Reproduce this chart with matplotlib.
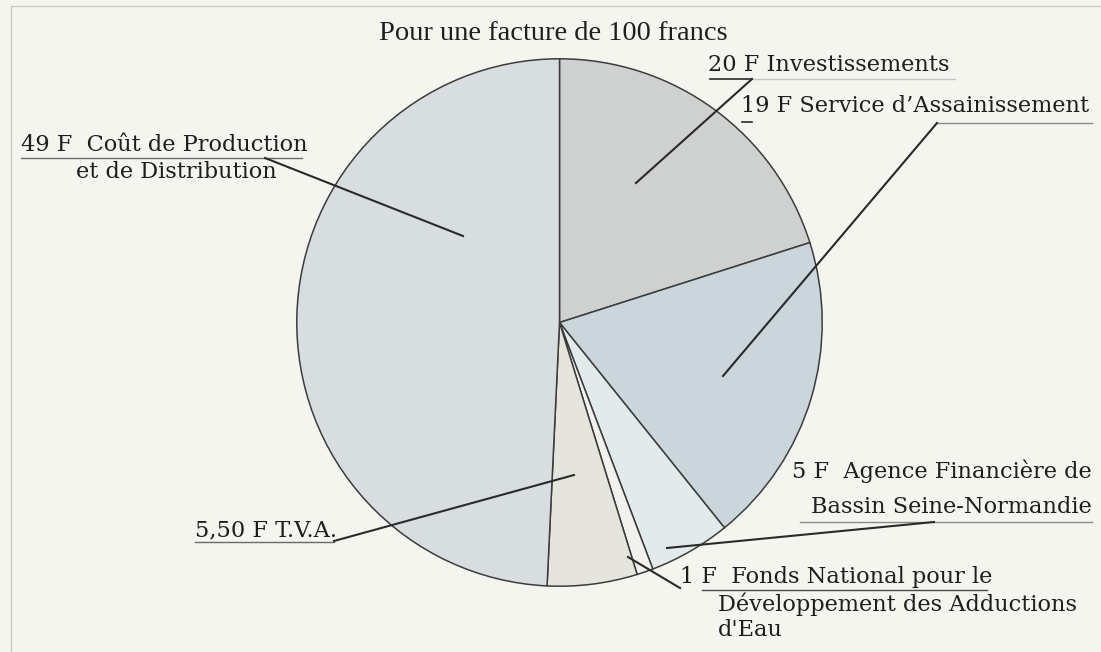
import matplotlib
matplotlib.use("Agg")
import matplotlib.pyplot as plt

# Répartition d'une facture d'eau de 100 francs (sens horaire depuis le haut)
parts = ["Investissements", "Service d'Assainissement", "Agence Financière",
         "Fonds National", "T.V.A.", "Coût de Production"]
montants = [20, 19, 5, 1, 5.5, 49]
couleurs = ["#cfd1d1", "#cbd6dc", "#e3eaec", "#f1f2ee", "#e5e5dd", "#d8dedf"]

titre = "Pour une facture de 100 francs"

W, H = 1101, 652
BG = "#f5f5ef"

fig = plt.figure(figsize=(W / 100, H / 100), dpi=100, facecolor=BG)

# camembert
ax = fig.add_axes([296 / W, 65 / H, 527 / W, 529 / H])
ax.pie(montants, colors=couleurs, startangle=90, counterclock=False, radius=1,
       wedgeprops=dict(edgecolor="#3c3c3c", linewidth=1.1))
ax.set_xlim(-1.003, 1.003)
ax.set_ylim(-1.003, 1.003)
ax.set_aspect("auto")
ax.axis("off")

# calque en pixels pour les textes et les traits de rappel
ov = fig.add_axes([0, 0, 1, 1])
ov.set_xlim(0, W)
ov.set_ylim(H, 0)
ov.axis("off")
ov.patch.set_alpha(0)

# cadre léger de la page scannée
ov.plot([11, 11], [7, H], color="#c9c9c4", lw=1)
ov.plot([11, W], [6, 6], color="#c9c9c4", lw=1)

lab = dict(family="DejaVu Serif", fontsize=16.2, color="#1e1e1e", va="center")

ov.text(379, 33, titre, family="Liberation Serif", fontsize=20.5,
        color="#1e1e1e", va="center")

# 20 F Investissements
ov.text(708, 65, "20 F Investissements", **lab)
ov.plot([710, 752], [79, 79], color="#2a2a2a", lw=1.2)
ov.plot([752, 955], [79, 79], color="#c4c4c0", lw=1)
ov.plot([752, 636], [79, 183], color="#2a2a2a", lw=1.5)

# 19 F Service d'Assainissement
ov.text(741, 106, "19 F Service d\u2019Assainissement", **lab)
ov.plot([742, 752], [122, 122], color="#2a2a2a", lw=1.2)
ov.plot([937, 1092], [123, 123], color="#8a8a88", lw=1)
ov.plot([937, 723], [123, 376], color="#2a2a2a", lw=1.5)

# 49 F Coût de Production et de Distribution
ov.text(21, 145, "49 F  Coût de Production", **lab)
ov.text(76, 172, "et de Distribution", **lab)
ov.plot([21, 302], [158, 158], color="#6a6a68", lw=1)
ov.plot([265, 463], [158, 236], color="#2a2a2a", lw=1.5)

# 5 F Agence Financière de Bassin Seine-Normandie
ov.text(1092, 471, "5 F  Agence Financière de", ha="right", **lab)
ov.text(1092, 507, "Bassin Seine-Normandie", ha="right", **lab)
ov.plot([800, 1092], [522, 522], color="#8a8a88", lw=1)
ov.plot([934, 667], [522, 548], color="#2a2a2a", lw=1.5)

# 5,50 F T.V.A.
ov.text(195, 530, "5,50 F T.V.A.", **lab)
ov.plot([195, 334], [542, 542], color="#6a6a68", lw=1)
ov.plot([334, 574], [541, 475], color="#2a2a2a", lw=1.5)

# 1 F Fonds National
ov.text(680, 577, "1 F  Fonds National pour le", **lab)
ov.text(718, 604, "Développement des Adductions", **lab)
ov.text(718, 630, "d'Eau", **lab)
ov.plot([702, 987], [590, 590], color="#4a4a48", lw=1)
ov.plot([680, 628], [588, 557], color="#2a2a2a", lw=1.5)

fig.savefig("out.png", dpi=100, facecolor=BG)
